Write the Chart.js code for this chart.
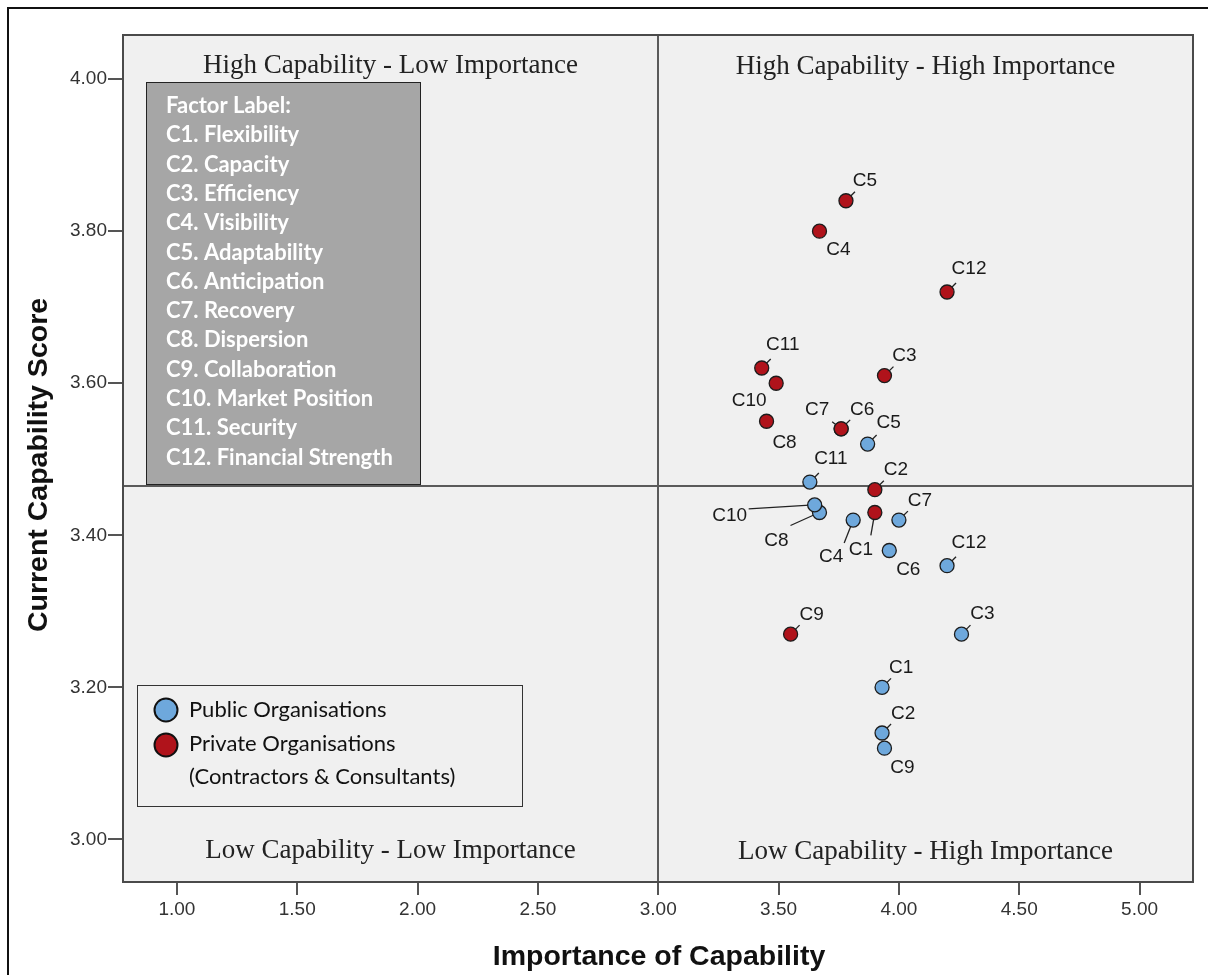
<!DOCTYPE html>
<html>
<head>
<meta charset="utf-8">
<title>Importance vs Current Capability</title>
<script src="https://cdn.jsdelivr.net/npm/chart.js@4"></script>
<style>
  html, body { margin: 0; padding: 0; background: #fff; }
  canvas { display: block; }
</style>
</head>
<body>
<canvas id="quadrantChart" width="1208" height="975"></canvas>
<script>
// factor codes and names
const factors = ['C1', 'C2', 'C3', 'C4', 'C5', 'C6', 'C7', 'C8', 'C9', 'C10', 'C11', 'C12'];
const factorNames = ['Flexibility', 'Capacity', 'Efficiency', 'Visibility', 'Adaptability', 'Anticipation',
  'Recovery', 'Dispersion', 'Collaboration', 'Market Position', 'Security', 'Financial Strength'];

// mean scores per factor, C1..C12
const publicImportance  = [3.93, 3.93, 4.26, 3.81, 3.87, 3.96, 4.00, 3.67, 3.94, 3.65, 3.63, 4.20];
const publicCapability  = [3.20, 3.14, 3.27, 3.42, 3.52, 3.38, 3.42, 3.43, 3.12, 3.44, 3.47, 3.36];
const privateImportance = [3.90, 3.90, 3.94, 3.67, 3.78, 3.76, 3.76, 3.45, 3.55, 3.49, 3.43, 4.20];
const privateCapability = [3.43, 3.46, 3.61, 3.80, 3.84, 3.54, 3.54, 3.55, 3.27, 3.60, 3.62, 3.72];

const importanceTicks = [1.00, 1.50, 2.00, 2.50, 3.00, 3.50, 4.00, 4.50, 5.00];
const capabilityTicks = [3.00, 3.20, 3.40, 3.60, 3.80, 4.00];

// quadrant split lines
const importanceCut = 3.00;
const capabilityCut = 3.465;

const quadrantNames = ['High Capability - Low Importance', 'High Capability - High Importance',
  'Low Capability - Low Importance', 'Low Capability - High Importance'];
const groupNames = ['Public Organisations', 'Private Organisations', '(Contractors & Consultants)'];

// label offsets [dx, dy, leaderX, leaderY] relative to each point, null = no leader
const publicLabelPos = [
  [19, -20, 9, -9], [21, -19, 9, -9], [21, -20, 9, -9], [-22, 37, -9, 23],
  [21, -21, 9, -9], [19, 19, null, null], [21, -19, 9, -9], [-43, 28, -29, 13],
  [18, 20, null, null], [-85, 11, -66, 4], [21, -23, 9, -9], [22, -23, 9, -9]
];
const privateLabelPos = [
  [-14, 37, -4, 23], [21, -20, 9, -9], [20, -20, 9, -9], [19, 19, null, null],
  [19, -20, 9, -9], [21, -19, 9, -9], [-24, -19, -9, -7], [18, 22, null, null],
  [21, -19, 9, -9], [-27, 18, null, null], [21, -23, 9, -9], [22, -23, 9, -9]
];

const BLUE = '#6ea8dc';
const RED = '#b0131b';
const SANS = '"Liberation Sans", Arial, sans-serif';
const LABEL_FONT = '"Lato", "Open Sans", sans-serif';

function toPoints(xs, ys) {
  return xs.map((x, i) => ({ x: x, y: ys[i] }));
}

const quadrantPlugin = {
  id: 'quadrants',
  beforeDraw(chart) {
    const { ctx, chartArea: a } = chart;
    ctx.save();
    ctx.fillStyle = '#fff';
    ctx.fillRect(0, 0, chart.width, chart.height);
    // outer frame
    ctx.strokeStyle = '#111';
    ctx.lineWidth = 2;
    ctx.strokeRect(8, 8, chart.width + 20, chart.height + 20);
    ctx.fillStyle = '#f0f0f0';
    ctx.fillRect(a.left, a.top, a.right - a.left, a.bottom - a.top);
    ctx.restore();
  },
  beforeDatasetsDraw(chart) {
    const { ctx, chartArea: a, scales } = chart;
    const cx = Math.round(scales.x.getPixelForValue(importanceCut));
    const cy = Math.round(scales.y.getPixelForValue(capabilityCut));
    ctx.save();
    ctx.strokeStyle = '#5a5a5a';
    ctx.lineWidth = 2;
    ctx.beginPath();
    ctx.moveTo(cx, a.top); ctx.lineTo(cx, a.bottom);
    ctx.moveTo(a.left, cy); ctx.lineTo(a.right, cy);
    ctx.stroke();
    ctx.strokeStyle = '#4a4a4a';
    ctx.strokeRect(a.left, a.top, a.right - a.left, a.bottom - a.top);

    // quadrant captions
    ctx.fillStyle = '#222';
    ctx.font = '27px "Liberation Serif", "Times New Roman", serif';
    ctx.textAlign = 'center';
    ctx.textBaseline = 'middle';
    const leftMid = (a.left + cx) / 2, rightMid = (cx + a.right) / 2;
    ctx.fillText(quadrantNames[0], leftMid, 66);
    ctx.fillText(quadrantNames[1], rightMid, 67);
    ctx.fillText(quadrantNames[2], leftMid, 851);
    ctx.fillText(quadrantNames[3], rightMid, 852);

    // leader lines
    ctx.strokeStyle = '#222';
    ctx.lineWidth = 1.3;
    [publicLabelPos, privateLabelPos].forEach((places, di) => {
      chart.getDatasetMeta(di).data.forEach((pt, i) => {
        const p = places[i];
        if (p[2] === null) return;
        const len = Math.hypot(p[2], p[3]);
        const r = 5;
        ctx.beginPath();
        ctx.moveTo(pt.x + p[2] / len * r, pt.y + p[3] / len * r);
        ctx.lineTo(pt.x + p[2], pt.y + p[3]);
        ctx.stroke();
      });
    });
    ctx.restore();
  },
  afterDatasetsDraw(chart) {
    const { ctx } = chart;
    ctx.save();
    // point labels
    ctx.fillStyle = '#1a1a1a';
    ctx.font = '19px ' + SANS;
    ctx.textAlign = 'center';
    ctx.textBaseline = 'middle';
    [publicLabelPos, privateLabelPos].forEach((places, di) => {
      chart.getDatasetMeta(di).data.forEach((pt, i) => {
        ctx.fillText(factors[i], pt.x + places[i][0], pt.y + places[i][1]);
      });
    });

    // factor key box
    ctx.fillStyle = '#a6a6a6';
    ctx.fillRect(146, 82, 274, 402);
    ctx.strokeStyle = '#222';
    ctx.lineWidth = 1;
    ctx.strokeRect(146.5, 82.5, 274, 402);
    ctx.fillStyle = '#fff';
    ctx.font = 'bold 22px ' + LABEL_FONT;
    ctx.textAlign = 'left';
    ctx.fillText('Factor Label:', 166, 106);
    factors.forEach((f, i) => {
      ctx.fillText(f + '. ' + factorNames[i], 166, 106 + 29.3 * (i + 1));
    });

    // group legend
    ctx.fillStyle = '#f0f0f0';
    ctx.fillRect(137, 685, 385, 121);
    ctx.strokeStyle = '#333';
    ctx.strokeRect(137.5, 685.5, 385, 121);
    [[BLUE, 710], [RED, 745]].forEach(([c, y]) => {
      ctx.beginPath();
      ctx.arc(166, y, 11.5, 0, Math.PI * 2);
      ctx.fillStyle = c;
      ctx.fill();
      ctx.lineWidth = 2;
      ctx.strokeStyle = '#111';
      ctx.stroke();
    });
    ctx.fillStyle = '#111';
    ctx.font = '22px ' + LABEL_FONT;
    ctx.fillText(groupNames[0], 189, 710);
    ctx.fillText(groupNames[1], 189, 744);
    ctx.fillText(groupNames[2], 189, 777);

    // axis titles
    ctx.font = 'bold 28.5px ' + SANS;
    ctx.textAlign = 'center';
    ctx.fillStyle = '#111';
    ctx.fillText('Importance of Capability', 659, 957);
    ctx.translate(39, 465);
    ctx.rotate(-Math.PI / 2);
    ctx.fillText('Current Capability Score', 0, 0);
    ctx.restore();
  }
};

const ctx = document.getElementById('quadrantChart').getContext('2d');
const chart = new Chart(ctx, {
  type: 'scatter',
  data: {
    datasets: [
      {
        label: groupNames[0],
        data: toPoints(publicImportance, publicCapability),
        backgroundColor: BLUE,
        borderColor: '#1c1c1c',
        borderWidth: 1.3,
        pointRadius: 7
      },
      {
        label: groupNames[1],
        data: toPoints(privateImportance, privateCapability),
        backgroundColor: RED,
        borderColor: '#1c1c1c',
        borderWidth: 1.3,
        pointRadius: 7
      }
    ]
  },
  options: {
    responsive: false,
    animation: false,
    devicePixelRatio: 1,
    layout: { padding: { top: 35, right: 15, left: 0, bottom: 0 } },
    plugins: { legend: { display: false }, tooltip: { enabled: false } },
    scales: {
      x: {
        type: 'linear',
        min: 0.776,
        max: 5.222,
        afterBuildTicks: s => { s.ticks = importanceTicks.map(v => ({ value: v })); },
        afterFit: s => { s.height = 93; },
        grid: { drawOnChartArea: false, drawTicks: true, tickLength: 13, color: '#555', lineWidth: 2 },
        border: { display: false },
        ticks: {
          padding: 3, color: '#333', autoSkip: false, maxRotation: 0,
          font: { family: SANS, size: 19 },
          callback: v => Number(v).toFixed(2)
        }
      },
      y: {
        type: 'linear',
        min: 2.944,
        max: 4.058,
        afterBuildTicks: s => { s.ticks = capabilityTicks.map(v => ({ value: v })); },
        afterFit: s => { s.width = 123; },
        grid: { drawOnChartArea: false, drawTicks: true, tickLength: 15, color: '#555', lineWidth: 2 },
        border: { display: false },
        ticks: {
          padding: 1, color: '#333', autoSkip: false,
          font: { family: SANS, size: 19 },
          callback: v => Number(v).toFixed(2)
        }
      }
    }
  },
  plugins: [quadrantPlugin]
});
</script>
</body>
</html>
